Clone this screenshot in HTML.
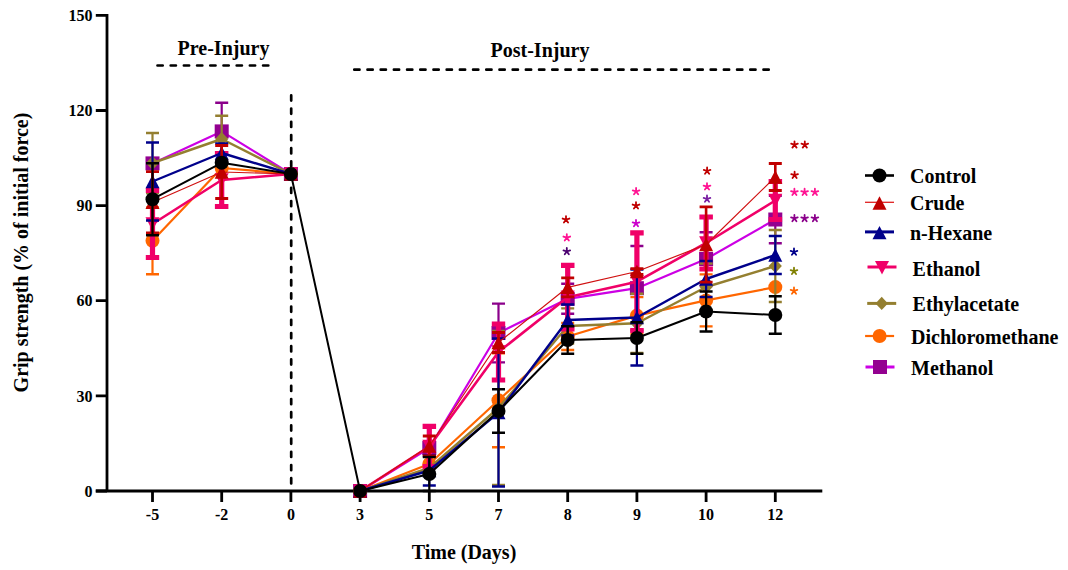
<!DOCTYPE html>
<html><head><meta charset="utf-8"><style>
html,body{margin:0;padding:0;background:#fff;}
body{width:1068px;height:570px;overflow:hidden;font-family:"Liberation Serif",serif;}
svg{display:block;}
</style></head><body>
<svg width="1068" height="570" viewBox="0 0 1068 570">
<rect width="1068" height="570" fill="#fff"/>
<g stroke="#000" stroke-width="2.8" fill="none">
<path d="M107 14V492.3M95.8 491H822.3"/>
<path d="M95.8 491H107M95.8 395.9H107M95.8 300.7H107M95.8 205.6H107M95.8 110.5H107M95.8 15.4H107"/>
<path d="M152.5 491V502M221.7 491V502M290.9 491V502M360.1 491V502M429.3 491V502M498.5 491V502M567.7 491V502M636.9 491V502M706.1 491V502M775.3 491V502"/>
</g>
<g stroke="#000" stroke-width="2.7" fill="none" stroke-dasharray="5.2 8" stroke-linecap="round" stroke-dashoffset="-1.3">
<path d="M157.5 65.5H270.5" stroke-dashoffset="0"/>
<path d="M353 69.7H770"/>
<path d="M291.2 95V491" stroke-dashoffset="-0.4"/>
</g>
<path d="M152.5 163.4L221.7 131.4L290.9 174M360.1 491L429.3 448L498.5 333L567.7 298.8L636.9 288.2L706.1 259L775.3 219.5" fill="none" stroke="#CC00E4" stroke-width="2.2" stroke-linejoin="round"/>
<path d="M221.7 102.7V160.1M498.5 303.6V362.4M567.7 283.8V313.8M636.9 246V330.4M706.1 232.2V285.8M775.3 195.8V243.2" stroke="#8B008B" stroke-width="2.2" fill="none"/>
<path d="M215.2 102.7H228.2M215.2 160.1H228.2M492 303.6H505M492 362.4H505M561.2 283.8H574.2M561.2 313.8H574.2M630.4 246H643.4M630.4 330.4H643.4M699.6 232.2H712.6M699.6 285.8H712.6M768.8 195.8H781.8M768.8 243.2H781.8" stroke="#8B008B" stroke-width="2.4" fill="none"/>
<rect x="145.5" y="156.4" width="14" height="14" fill="#930090"/>
<rect x="214.7" y="124.4" width="14" height="14" fill="#930090"/>
<rect x="283.9" y="167" width="14" height="14" fill="#930090"/>
<rect x="353.1" y="484" width="14" height="14" fill="#930090"/>
<rect x="422.3" y="441" width="14" height="14" fill="#930090"/>
<rect x="491.5" y="326" width="14" height="14" fill="#930090"/>
<rect x="560.7" y="291.8" width="14" height="14" fill="#930090"/>
<rect x="629.9" y="281.2" width="14" height="14" fill="#930090"/>
<rect x="699.1" y="252" width="14" height="14" fill="#930090"/>
<rect x="768.3" y="212.5" width="14" height="14" fill="#930090"/>
<path d="M152.5 240.8L221.7 168L290.9 174M360.1 491L429.3 464L498.5 400.3L567.7 336.5L636.9 315.6L706.1 300.4L775.3 287.1" fill="none" stroke="#FF6600" stroke-width="2.2" stroke-linejoin="round"/>
<path d="M152.5 207.4V274.2M498.5 353.3V447.3M567.7 323V350M636.9 297.1V334.1M706.1 274.4V326.4" stroke="#FF6600" stroke-width="2.2" fill="none"/>
<path d="M146 207.4H159M146 274.2H159M492 353.3H505M492 447.3H505M561.2 323H574.2M561.2 350H574.2M630.4 297.1H643.4M630.4 334.1H643.4M699.6 274.4H712.6M699.6 326.4H712.6" stroke="#FF6600" stroke-width="2.4" fill="none"/>
<circle cx="152.5" cy="240.8" r="7" fill="#FF6600"/>
<circle cx="221.7" cy="168" r="7" fill="#FF6600"/>
<circle cx="290.9" cy="174" r="7" fill="#FF6600"/>
<circle cx="360.1" cy="491" r="7" fill="#FF6600"/>
<circle cx="429.3" cy="464" r="7" fill="#FF6600"/>
<circle cx="498.5" cy="400.3" r="7" fill="#FF6600"/>
<circle cx="567.7" cy="336.5" r="7" fill="#FF6600"/>
<circle cx="636.9" cy="315.6" r="7" fill="#FF6600"/>
<circle cx="706.1" cy="300.4" r="7" fill="#FF6600"/>
<circle cx="775.3" cy="287.1" r="7" fill="#FF6600"/>
<path d="M152.5 163L221.7 139L290.9 174M360.1 491L429.3 468L498.5 408L567.7 326L636.9 323.3L706.1 287L775.3 266" fill="none" stroke="#947F30" stroke-width="2.4" stroke-linejoin="round"/>
<path d="M152.5 133V193M221.7 115.8V162.2M498.5 331V485M567.7 308.4V343.6M636.9 293.7V352.9M706.1 263.5V310.5M775.3 230V302" stroke="#947F30" stroke-width="2.2" fill="none"/>
<path d="M146 133H159M146 193H159M215.2 115.8H228.2M215.2 162.2H228.2M492 331H505M492 485H505M561.2 308.4H574.2M561.2 343.6H574.2M630.4 293.7H643.4M630.4 352.9H643.4M699.6 263.5H712.6M699.6 310.5H712.6M768.8 230H781.8M768.8 302H781.8" stroke="#947F30" stroke-width="2.4" fill="none"/>
<path d="M152.5 155.9L159.1 163L152.5 170.1L145.9 163Z" fill="#947F30"/>
<path d="M221.7 131.9L228.3 139L221.7 146.1L215.1 139Z" fill="#947F30"/>
<path d="M290.9 166.9L297.5 174L290.9 181.1L284.3 174Z" fill="#947F30"/>
<path d="M360.1 483.9L366.7 491L360.1 498.1L353.5 491Z" fill="#947F30"/>
<path d="M429.3 460.9L435.9 468L429.3 475.1L422.7 468Z" fill="#947F30"/>
<path d="M498.5 400.9L505.1 408L498.5 415.1L491.9 408Z" fill="#947F30"/>
<path d="M567.7 318.9L574.3 326L567.7 333.1L561.1 326Z" fill="#947F30"/>
<path d="M636.9 316.2L643.5 323.3L636.9 330.4L630.3 323.3Z" fill="#947F30"/>
<path d="M706.1 279.9L712.7 287L706.1 294.1L699.5 287Z" fill="#947F30"/>
<path d="M775.3 258.9L781.9 266L775.3 273.1L768.7 266Z" fill="#947F30"/>
<path d="M152.5 224L221.7 180L290.9 174M360.1 491L429.3 446.5L498.5 352L567.7 297.2L636.9 281.7L706.1 243L775.3 200.5" fill="none" stroke="#F00068" stroke-width="2.6" stroke-linejoin="round"/>
<path d="M152.5 190.5V257.5M221.7 153.5V206.5M429.3 426.3V466.7M498.5 324V380M567.7 265.4V329M636.9 232.9V330.5M706.1 217V269M775.3 181.5V219.5" stroke="#F00068" stroke-width="5.2" fill="none"/>
<path d="M145.8 190.5H159.2M145.8 257.5H159.2M214.9 153.5H228.4M214.9 206.5H228.4M422.6 426.3H436.1M422.6 466.7H436.1M491.8 324H505.2M491.8 380H505.2M561 265.4H574.5M561 329H574.5M630.2 232.9H643.7M630.2 330.5H643.7M699.4 217H712.9M699.4 269H712.9M768.6 181.5H782.1M768.6 219.5H782.1" stroke="#F00068" stroke-width="5.2" fill="none"/>
<path d="M145.5 217.3L159.5 217.3L152.5 230.7Z" fill="#F00068"/>
<path d="M214.7 173.3L228.7 173.3L221.7 186.7Z" fill="#F00068"/>
<path d="M283.9 167.3L297.9 167.3L290.9 180.7Z" fill="#F00068"/>
<path d="M353.1 484.3L367.1 484.3L360.1 497.7Z" fill="#F00068"/>
<path d="M422.3 439.8L436.3 439.8L429.3 453.2Z" fill="#F00068"/>
<path d="M491.5 345.3L505.5 345.3L498.5 358.7Z" fill="#F00068"/>
<path d="M560.7 290.5L574.7 290.5L567.7 303.9Z" fill="#F00068"/>
<path d="M629.9 275L643.9 275L636.9 288.4Z" fill="#F00068"/>
<path d="M699.1 236.3L713.1 236.3L706.1 249.7Z" fill="#F00068"/>
<path d="M768.3 193.8L782.3 193.8L775.3 207.2Z" fill="#F00068"/>
<path d="M152.5 181.5L221.7 153L290.9 174M360.1 491L429.3 470.5L498.5 412.5L567.7 320L636.9 317.5L706.1 279L775.3 255" fill="none" stroke="#00008B" stroke-width="2.4" stroke-linejoin="round"/>
<path d="M152.5 142.5V220.5M221.7 143.5V162.5M429.3 455.5V485.5M498.5 338.5V486.5M567.7 304.5V335.5M636.9 269.5V365.5M706.1 261V297M775.3 236V274" stroke="#00008B" stroke-width="2.2" fill="none"/>
<path d="M146 142.5H159M146 220.5H159M215.2 143.5H228.2M215.2 162.5H228.2M422.8 455.5H435.8M422.8 485.5H435.8M492 338.5H505M492 486.5H505M561.2 304.5H574.2M561.2 335.5H574.2M630.4 269.5H643.4M630.4 365.5H643.4M699.6 261H712.6M699.6 297H712.6M768.8 236H781.8M768.8 274H781.8" stroke="#00008B" stroke-width="2.6" fill="none"/>
<path d="M152.5 174.8L159.5 188.2L145.5 188.2Z" fill="#00008B"/>
<path d="M221.7 146.3L228.7 159.7L214.7 159.7Z" fill="#00008B"/>
<path d="M290.9 167.3L297.9 180.7L283.9 180.7Z" fill="#00008B"/>
<path d="M360.1 484.3L367.1 497.7L353.1 497.7Z" fill="#00008B"/>
<path d="M429.3 463.8L436.3 477.2L422.3 477.2Z" fill="#00008B"/>
<path d="M498.5 405.8L505.5 419.2L491.5 419.2Z" fill="#00008B"/>
<path d="M567.7 313.3L574.7 326.7L560.7 326.7Z" fill="#00008B"/>
<path d="M636.9 310.8L643.9 324.2L629.9 324.2Z" fill="#00008B"/>
<path d="M706.1 272.3L713.1 285.7L699.1 285.7Z" fill="#00008B"/>
<path d="M775.3 248.3L782.3 261.7L768.3 261.7Z" fill="#00008B"/>
<path d="M152.5 202.3L221.7 172L290.9 174M360.1 491L429.3 446L498.5 342.5L567.7 287.3L636.9 271.5L706.1 244.5L775.3 177" fill="none" stroke="#D01010" stroke-width="1.2" stroke-linejoin="round"/>
<path d="M152.5 171.7V232.9M221.7 145.5V198.5M429.3 436V456M498.5 332.5V352.5M567.7 277.8V296.8M636.9 268.7V274.3M706.1 206.8V282.2M775.3 163.5V190.5" stroke="#C00000" stroke-width="2.6" fill="none"/>
<path d="M146 171.7H159M146 232.9H159M215.2 145.5H228.2M215.2 198.5H228.2M422.8 436H435.8M422.8 456H435.8M492 332.5H505M492 352.5H505M561.2 277.8H574.2M561.2 296.8H574.2M630.4 268.7H643.4M630.4 274.3H643.4M699.6 206.8H712.6M699.6 282.2H712.6M768.8 163.5H781.8M768.8 190.5H781.8" stroke="#C00000" stroke-width="2.8" fill="none"/>
<path d="M152.5 195.6L159.5 209L145.5 209Z" fill="#C00000"/>
<path d="M221.7 165.3L228.7 178.7L214.7 178.7Z" fill="#C00000"/>
<path d="M290.9 167.3L297.9 180.7L283.9 180.7Z" fill="#C00000"/>
<path d="M360.1 484.3L367.1 497.7L353.1 497.7Z" fill="#C00000"/>
<path d="M429.3 439.3L436.3 452.7L422.3 452.7Z" fill="#C00000"/>
<path d="M498.5 335.8L505.5 349.2L491.5 349.2Z" fill="#C00000"/>
<path d="M567.7 280.6L574.7 294L560.7 294Z" fill="#C00000"/>
<path d="M636.9 264.8L643.9 278.2L629.9 278.2Z" fill="#C00000"/>
<path d="M706.1 237.8L713.1 251.2L699.1 251.2Z" fill="#C00000"/>
<path d="M775.3 170.3L782.3 183.7L768.3 183.7Z" fill="#C00000"/>
<path d="M152.5 199.2L221.7 162.8L290.9 174L360.1 491L429.3 474L498.5 411L567.7 340L636.9 338L706.1 311.5L775.3 315" fill="none" stroke="#000000" stroke-width="2.0" stroke-linejoin="round"/>
<path d="M152.5 163.2V235.2M429.3 457V491M498.5 389.2V432.8M567.7 326.3V353.7M636.9 322.3V353.7M706.1 291.5V331.5M775.3 296.3V333.7" stroke="#000000" stroke-width="2.2" fill="none"/>
<path d="M146 163.2H159M146 235.2H159M422.8 457H435.8M422.8 491H435.8M492 389.2H505M492 432.8H505M561.2 326.3H574.2M561.2 353.7H574.2M630.4 322.3H643.4M630.4 353.7H643.4M699.6 291.5H712.6M699.6 331.5H712.6M768.8 296.3H781.8M768.8 333.7H781.8" stroke="#000000" stroke-width="2.6" fill="none"/>
<circle cx="152.5" cy="199.2" r="7" fill="#000000"/>
<circle cx="221.7" cy="162.8" r="7" fill="#000000"/>
<circle cx="290.9" cy="174" r="7" fill="#000000"/>
<circle cx="360.1" cy="491" r="7" fill="#000000"/>
<circle cx="429.3" cy="474" r="7" fill="#000000"/>
<circle cx="498.5" cy="411" r="7" fill="#000000"/>
<circle cx="567.7" cy="340" r="7" fill="#000000"/>
<circle cx="636.9" cy="338" r="7" fill="#000000"/>
<circle cx="706.1" cy="311.5" r="7" fill="#000000"/>
<circle cx="775.3" cy="315" r="7" fill="#000000"/>
<g font-family="Liberation Serif" font-weight="bold" font-size="16" fill="#000">
<text x="92.5" y="496.6" text-anchor="end">0</text>
<text x="92.5" y="401.5" text-anchor="end">30</text>
<text x="92.5" y="306.3" text-anchor="end">60</text>
<text x="92.5" y="211.2" text-anchor="end">90</text>
<text x="92.5" y="116.1" text-anchor="end">120</text>
<text x="92.5" y="21" text-anchor="end">150</text>
<text x="152.5" y="520.1" text-anchor="middle">-5</text>
<text x="221.7" y="520.1" text-anchor="middle">-2</text>
<text x="290.9" y="520.1" text-anchor="middle">0</text>
<text x="360.1" y="520.1" text-anchor="middle">3</text>
<text x="429.3" y="520.1" text-anchor="middle">5</text>
<text x="498.5" y="520.1" text-anchor="middle">7</text>
<text x="567.7" y="520.1" text-anchor="middle">8</text>
<text x="636.9" y="520.1" text-anchor="middle">9</text>
<text x="706.1" y="520.1" text-anchor="middle">10</text>
<text x="775.3" y="520.1" text-anchor="middle">12</text>
</g>
<g font-family="Liberation Serif" font-weight="bold" font-size="20" fill="#000">
<text x="223.5" y="54.9" text-anchor="middle">Pre-Injury</text>
<text x="540" y="56.5" text-anchor="middle">Post-Injury</text>
<text x="464" y="558.6" text-anchor="middle">Time (Days)</text>
<text transform="translate(27.5 252.5) rotate(-90)" text-anchor="middle">Grip strength (% of initial force)</text>
</g>
<path d="M566 219.6l0.00 -3.50M566 219.6l3.33 -1.08M566 219.6l2.06 2.83M566 219.6l-2.06 2.83M566 219.6l-3.33 -1.08M636 205.6l0.00 -3.50M636 205.6l3.33 -1.08M636 205.6l2.06 2.83M636 205.6l-2.06 2.83M636 205.6l-3.33 -1.08M707.1 171l0.00 -3.50M707.1 171l3.33 -1.08M707.1 171l2.06 2.83M707.1 171l-2.06 2.83M707.1 171l-3.33 -1.08M794.5 144.8l0.00 -3.50M794.5 144.8l3.33 -1.08M794.5 144.8l2.06 2.83M794.5 144.8l-2.06 2.83M794.5 144.8l-3.33 -1.08M804.8 144.8l0.00 -3.50M804.8 144.8l3.33 -1.08M804.8 144.8l2.06 2.83M804.8 144.8l-2.06 2.83M804.8 144.8l-3.33 -1.08M794.6 175.2l0.00 -3.50M794.6 175.2l3.33 -1.08M794.6 175.2l2.06 2.83M794.6 175.2l-2.06 2.83M794.6 175.2l-3.33 -1.08" stroke="#C00000" stroke-width="1.8" stroke-linecap="round" fill="none"/>
<path d="M566.8 237.6l0.00 -3.50M566.8 237.6l3.33 -1.08M566.8 237.6l2.06 2.83M566.8 237.6l-2.06 2.83M566.8 237.6l-3.33 -1.08M636.1 191.5l0.00 -3.50M636.1 191.5l3.33 -1.08M636.1 191.5l2.06 2.83M636.1 191.5l-2.06 2.83M636.1 191.5l-3.33 -1.08M707 186.7l0.00 -3.50M707 186.7l3.33 -1.08M707 186.7l2.06 2.83M707 186.7l-2.06 2.83M707 186.7l-3.33 -1.08M794.4 192.2l0.00 -3.50M794.4 192.2l3.33 -1.08M794.4 192.2l2.06 2.83M794.4 192.2l-2.06 2.83M794.4 192.2l-3.33 -1.08M804.6 192.2l0.00 -3.50M804.6 192.2l3.33 -1.08M804.6 192.2l2.06 2.83M804.6 192.2l-2.06 2.83M804.6 192.2l-3.33 -1.08M814.9 192.2l0.00 -3.50M814.9 192.2l3.33 -1.08M814.9 192.2l2.06 2.83M814.9 192.2l-2.06 2.83M814.9 192.2l-3.33 -1.08" stroke="#FF1493" stroke-width="1.8" stroke-linecap="round" fill="none"/>
<path d="M566.8 251.5l0.00 -3.50M566.8 251.5l3.33 -1.08M566.8 251.5l2.06 2.83M566.8 251.5l-2.06 2.83M566.8 251.5l-3.33 -1.08" stroke="#4B0070" stroke-width="1.8" stroke-linecap="round" fill="none"/>
<path d="M636 223.4l0.00 -3.50M636 223.4l3.33 -1.08M636 223.4l2.06 2.83M636 223.4l-2.06 2.83M636 223.4l-3.33 -1.08" stroke="#CC00CC" stroke-width="1.8" stroke-linecap="round" fill="none"/>
<path d="M707 199l0.00 -3.50M707 199l3.33 -1.08M707 199l2.06 2.83M707 199l-2.06 2.83M707 199l-3.33 -1.08" stroke="#7A1FA2" stroke-width="1.8" stroke-linecap="round" fill="none"/>
<path d="M794.4 218.4l0.00 -3.50M794.4 218.4l3.33 -1.08M794.4 218.4l2.06 2.83M794.4 218.4l-2.06 2.83M794.4 218.4l-3.33 -1.08M804.6 218.4l0.00 -3.50M804.6 218.4l3.33 -1.08M804.6 218.4l2.06 2.83M804.6 218.4l-2.06 2.83M804.6 218.4l-3.33 -1.08M814.9 218.4l0.00 -3.50M814.9 218.4l3.33 -1.08M814.9 218.4l2.06 2.83M814.9 218.4l-2.06 2.83M814.9 218.4l-3.33 -1.08" stroke="#8B008B" stroke-width="1.8" stroke-linecap="round" fill="none"/>
<path d="M794 252l0.00 -3.50M794 252l3.33 -1.08M794 252l2.06 2.83M794 252l-2.06 2.83M794 252l-3.33 -1.08" stroke="#00008B" stroke-width="1.8" stroke-linecap="round" fill="none"/>
<path d="M794 271.2l0.00 -3.50M794 271.2l3.33 -1.08M794 271.2l2.06 2.83M794 271.2l-2.06 2.83M794 271.2l-3.33 -1.08" stroke="#808000" stroke-width="1.8" stroke-linecap="round" fill="none"/>
<path d="M794 290.9l0.00 -3.50M794 290.9l3.33 -1.08M794 290.9l2.06 2.83M794 290.9l-2.06 2.83M794 290.9l-3.33 -1.08" stroke="#FF6600" stroke-width="1.8" stroke-linecap="round" fill="none"/>
<g font-family="Liberation Serif" font-weight="bold" font-size="20" fill="#000">
<path d="M865 175.5H894" stroke="#000000" stroke-width="2.6"/>
<circle cx="879.5" cy="175.5" r="7" fill="#000000"/>
<text x="910" y="182.9">Control</text>
<path d="M865 202.3H894" stroke="#E02020" stroke-width="1.3"/>
<path d="M879.5 196.3L886.5 209.7L872.5 209.7Z" fill="#C00000"/>
<text x="910" y="210">Crude</text>
<path d="M865 231.9H894" stroke="#00008B" stroke-width="3"/>
<path d="M879.5 225.9L886.5 239.3L872.5 239.3Z" fill="#00008B"/>
<text x="910" y="239.5">n-Hexane</text>
<path d="M867.5 267H896.5" stroke="#F00068" stroke-width="3"/>
<path d="M875 261L889 261L882 274.4Z" fill="#F00068"/>
<text x="912.6" y="276">Ethanol</text>
<path d="M867.2 303.4H896.2" stroke="#947F30" stroke-width="3"/>
<path d="M881.7 296.8L887.9 303.4L881.7 310L875.5 303.4Z" fill="#947F30"/>
<text x="912.6" y="310.8">Ethylacetate</text>
<path d="M865.1 336H894.1" stroke="#FF6600" stroke-width="2.2"/>
<circle cx="879.6" cy="336" r="7" fill="#FF6600"/>
<text x="911" y="344.4">Dichloromethane</text>
<path d="M865.5 367H894.5" stroke="#CC00E4" stroke-width="3"/>
<rect x="873" y="360" width="14" height="14" fill="#930090"/>
<text x="911" y="375">Methanol</text>
</g>
</svg>
</body></html>
